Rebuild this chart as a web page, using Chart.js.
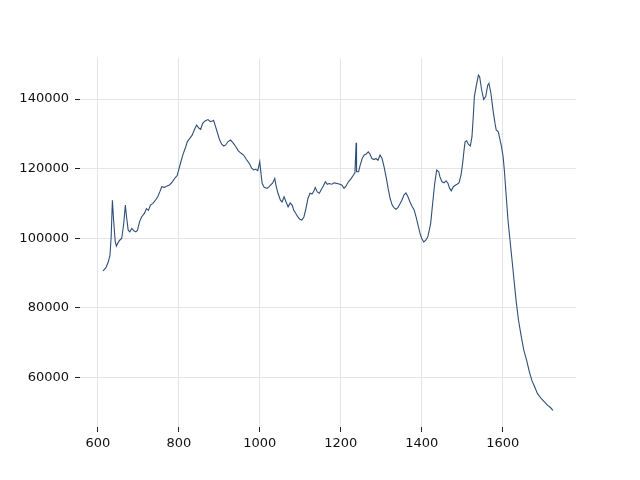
<!DOCTYPE html>
<html>
<head>
<meta charset="utf-8">
<script src="https://cdn.jsdelivr.net/npm/chart.js@4/dist/chart.umd.min.js"></script>
<style>
	body { margin: 0; background: #fff; }
	canvas { display: block; }
</style>
</head>
<body>
<canvas id="spectrum-chart" width="640" height="480"></canvas>
<script>
const wavenumbers = [
	613, 620, 626, 630, 633, 636, 639, 643, 646, 649, 654, 659, 664, 668, 671, 675, 679, 684, 689, 694,
	698, 703, 708, 715, 720, 725, 730, 736, 741, 748, 753, 758, 764, 771, 777, 784, 792, 796, 800, 805,
	811, 817, 821, 827, 833, 839, 844, 850, 854, 859, 865, 872, 878, 883, 886, 891, 896, 901, 906, 911,
	916, 921, 928, 934, 941, 947, 954, 960, 967, 974, 980, 985, 990, 995, 1000, 1003, 1006, 1011, 1018, 1024,
	1026, 1032, 1037, 1040, 1045, 1051, 1055, 1060, 1065, 1070, 1075, 1080, 1084, 1089, 1094, 1099, 1104, 1109, 1114, 1119,
	1124, 1129, 1134, 1137, 1142, 1147, 1152, 1157, 1162, 1167, 1171, 1178, 1184, 1191, 1198, 1203, 1208, 1212, 1219, 1226,
	1231, 1235, 1238, 1239, 1244, 1248, 1253, 1258, 1263, 1268, 1272, 1277, 1282, 1287, 1292, 1297, 1302, 1307, 1312, 1317,
	1322, 1327, 1332, 1336, 1341, 1346, 1351, 1356, 1361, 1366, 1371, 1376, 1381, 1386, 1391, 1396, 1400, 1405, 1410, 1415,
	1419, 1422, 1427, 1432, 1437, 1442, 1445, 1450, 1455, 1460, 1465, 1469, 1473, 1478, 1483, 1487, 1492, 1497, 1501, 1504,
	1507, 1511, 1515, 1520, 1524, 1527, 1530, 1535, 1540, 1543, 1548, 1553, 1558, 1563, 1566, 1571, 1576, 1581, 1584, 1589,
	1593, 1597, 1601, 1604, 1607, 1610, 1613, 1618, 1623, 1628, 1633, 1639, 1646, 1652, 1659, 1666, 1672, 1679, 1686, 1695,
	1703, 1711, 1718, 1724
];

const intensity = [
	90600, 91500, 93200, 95100, 100400, 110900, 105200, 98900, 97700, 98500, 99400, 99900, 104200, 109500, 106100, 102300, 101800, 102800, 102100, 101800,
	102300, 104700, 106100, 107100, 108500, 108000, 109500, 110000, 110700, 111900, 113300, 114800, 114600, 115000, 115300, 116200, 117500, 118000, 119800, 121900,
	124300, 126200, 127700, 128700, 129600, 131300, 132500, 131600, 131300, 133000, 133700, 134100, 133500, 133700, 133900, 132000, 130100, 128200, 127000, 126500,
	126800, 127700, 128200, 127400, 126300, 125100, 124400, 123900, 122600, 121500, 120100, 119600, 119800, 119400, 122000, 118600, 115700, 114600, 114300, 114900,
	115200, 115900, 117200, 115200, 112900, 110900, 110400, 111900, 110400, 109000, 110100, 109500, 108000, 107100, 106100, 105400, 105200, 106100, 108500, 111400,
	112900, 112700, 113600, 114600, 113300, 112900, 114000, 115000, 116200, 115500, 115700, 115500, 115900, 115700, 115500, 115200, 114300, 114800, 116200, 117200,
	118100, 118800, 127400, 119100, 119100, 121000, 122900, 123900, 124200, 124800, 124200, 122900, 122600, 122900, 122400, 123900, 122900, 120500, 117600, 114300,
	111400, 109500, 108700, 108300, 108800, 109800, 110900, 112400, 113000, 111900, 110400, 109200, 108200, 106100, 103700, 101300, 99900, 98900, 99400, 100400,
	102500, 104200, 110000, 115700, 119600, 119100, 117600, 116200, 115900, 116500, 115700, 114300, 113600, 114800, 115200, 115500, 115900, 118100, 121500, 124800,
	127700, 128000, 127000, 126500, 129100, 134400, 140700, 144000, 146900, 146400, 142600, 139900, 140700, 144000, 144500, 141600, 136800, 133000, 131100, 130600,
	128500, 126300, 123400, 119600, 114800, 110000, 105200, 99400, 93700, 87900, 82100, 76400, 71600, 67800, 64900, 61500, 59100, 57200, 55300, 53900,
	52900, 51900, 51300, 50500
];

const xTicks = [600, 800, 1000, 1200, 1400, 1600];
const yTicks = [60000, 80000, 100000, 120000, 140000];

const points = wavenumbers.map((x, i) => ({ x: x, y: intensity[i] }));

const tickFont = { family: "DejaVu Sans", size: 13 };

const spectrumContext = document.getElementById("spectrum-chart").getContext("2d");
const spectrumChart = new Chart(spectrumContext, {
	type: "line",
	data: {
		datasets: [
			{
				data: points,
				borderColor: "#2f4f78",
				borderWidth: 1.1,
				pointRadius: 0,
				tension: 0,
				fill: false
			}
		]
	},
	options: {
		responsive: false,
		animation: false,
		layout: {
			padding: { left: 0, right: 64, top: 58, bottom: 0 }
		},
		plugins: {
			legend: { display: false },
			tooltip: { enabled: false }
		},
		scales: {
			x: {
				type: "linear",
				min: 556,
				max: 1781,
				afterBuildTicks: scale => {
					scale.ticks = xTicks.map(v => ({ value: v }));
				},
				afterFit: scale => {
					scale.height = 53;
				},
				border: { display: false },
				grid: {
					color: "#e5e5e5",
					lineWidth: 1,
					tickColor: "#222",
					tickLength: 5
				},
				ticks: {
					color: "#111",
					font: tickFont,
					padding: 4,
					maxRotation: 0,
					callback: value => String(value)
				}
			},
			y: {
				type: "linear",
				min: 45700,
				max: 151800,
				afterBuildTicks: scale => {
					scale.ticks = yTicks.map(v => ({ value: v }));
				},
				afterFit: scale => {
					scale.width = 80;
				},
				border: { display: false },
				grid: {
					color: "#e5e5e5",
					lineWidth: 1,
					tickColor: "#222",
					tickLength: 5
				},
				ticks: {
					color: "#111",
					font: tickFont,
					padding: 6,
					callback: value => String(value)
				}
			}
		}
	}
});
</script>
</body>
</html>
